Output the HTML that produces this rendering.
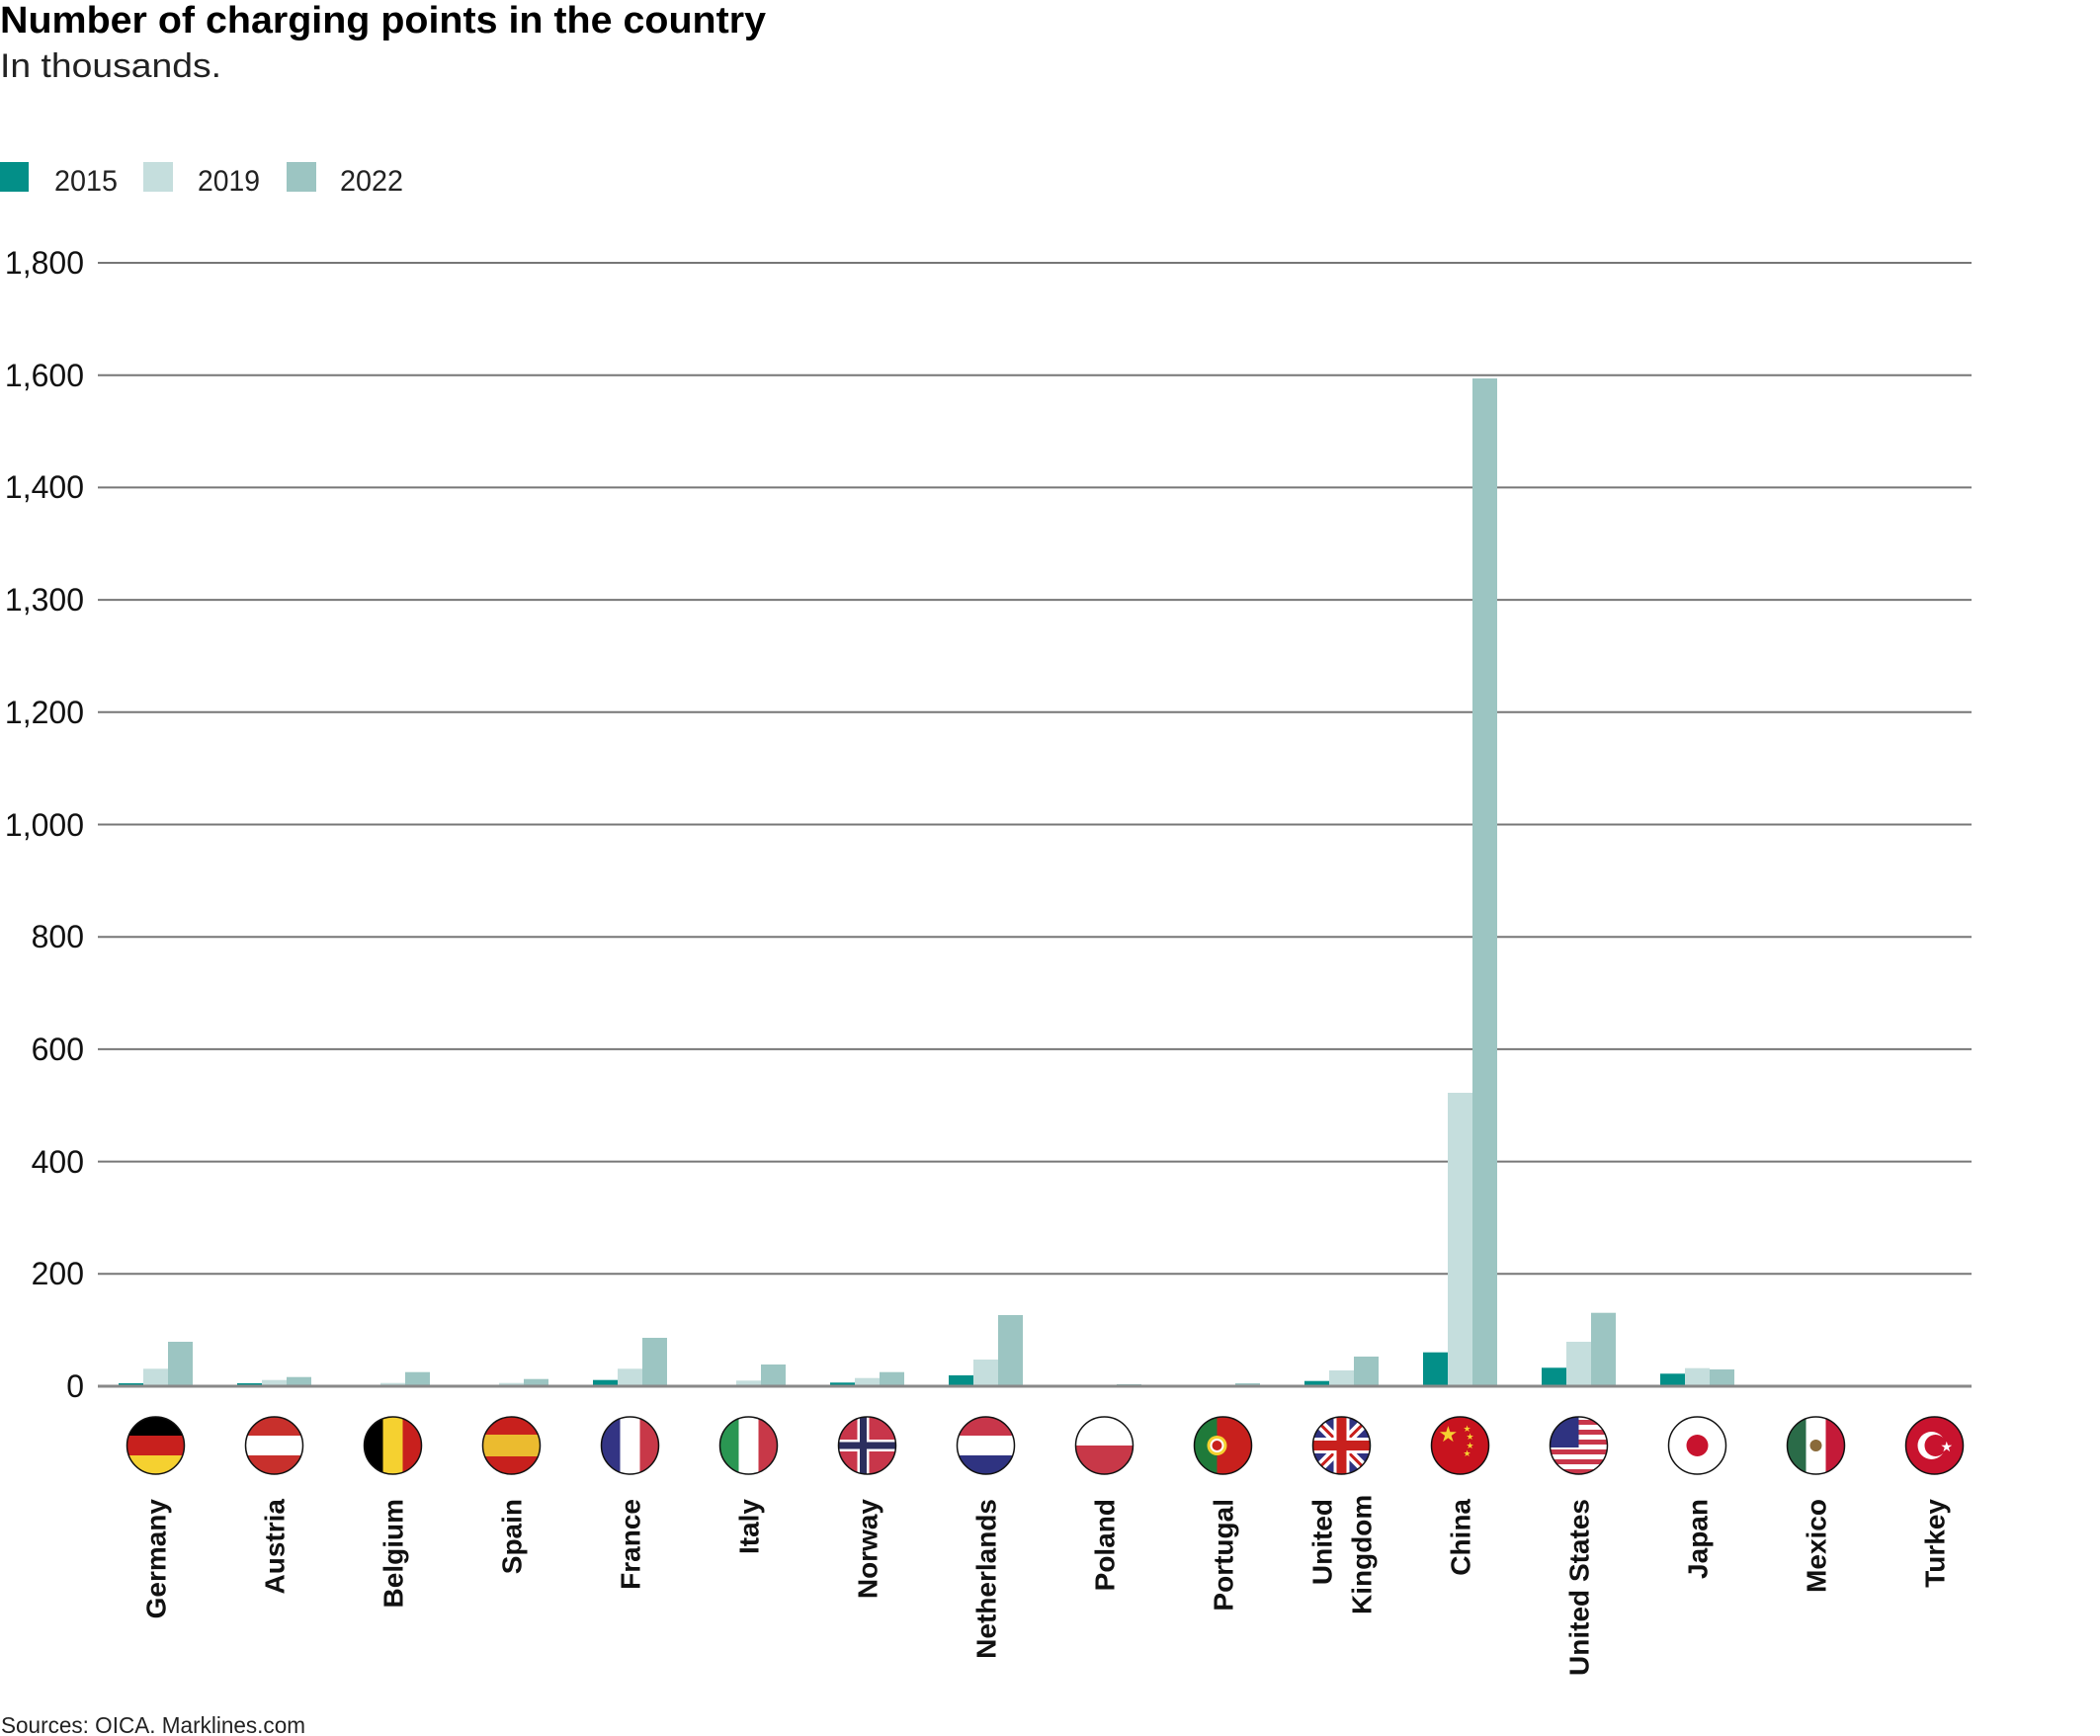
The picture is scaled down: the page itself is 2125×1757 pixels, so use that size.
<!DOCTYPE html>
<html><head><meta charset="utf-8"><style>html,body{margin:0;padding:0;background:#fff}svg{display:block}</style></head><body>
<svg width="2125" height="1757" viewBox="0 0 2125 1757" xmlns="http://www.w3.org/2000/svg">
<defs><clipPath id="c" clipPathUnits="userSpaceOnUse"><circle cx="0" cy="0" r="29"/></clipPath></defs>
<g font-family="'Liberation Sans Narrow','Liberation Sans',sans-serif">
<text x="0" y="33" font-size="38" font-weight="bold" textLength="775" lengthAdjust="spacingAndGlyphs">Number of charging points in the country</text>
<text x="0" y="78" font-size="34" textLength="224" lengthAdjust="spacingAndGlyphs" fill="#222">In thousands.</text>
<rect x="0" y="164" width="29" height="30" fill="#038f88"/><text x="55" y="193" font-size="30" textLength="64" lengthAdjust="spacingAndGlyphs" fill="#222">2015</text>
<rect x="145" y="164" width="30" height="30" fill="#c5dedd"/><text x="200" y="193" font-size="30" textLength="63" lengthAdjust="spacingAndGlyphs" fill="#222">2019</text>
<rect x="290" y="164" width="30" height="30" fill="#9cc5c2"/><text x="344" y="193" font-size="30" textLength="64" lengthAdjust="spacingAndGlyphs" fill="#222">2022</text>
<text x="1" y="1754" font-size="23" textLength="308" lengthAdjust="spacingAndGlyphs" fill="#222">Sources: OICA. Marklines.com</text>
</g>
<g stroke="#777" stroke-width="2">
<line x1="99" x2="1995" y1="266" y2="266"/><line x1="99" x2="1995" y1="379.7" y2="379.7"/><line x1="99" x2="1995" y1="493.4" y2="493.4"/><line x1="99" x2="1995" y1="607.1" y2="607.1"/><line x1="99" x2="1995" y1="720.8" y2="720.8"/><line x1="99" x2="1995" y1="834.5" y2="834.5"/><line x1="99" x2="1995" y1="948.2" y2="948.2"/><line x1="99" x2="1995" y1="1061.9" y2="1061.9"/><line x1="99" x2="1995" y1="1175.6" y2="1175.6"/><line x1="99" x2="1995" y1="1289.3" y2="1289.3"/>
</g>
<g font-family="'Liberation Sans Narrow','Liberation Sans',sans-serif" font-size="32" text-anchor="end" fill="#111">
<text x="85" y="277">1,800</text><text x="85" y="391">1,600</text><text x="85" y="504">1,400</text><text x="85" y="618">1,300</text><text x="85" y="732">1,200</text><text x="85" y="846">1,000</text><text x="85" y="959">800</text><text x="85" y="1073">600</text><text x="85" y="1187">400</text><text x="85" y="1300">200</text><text x="85" y="1414">0</text>
</g>
<g id="bars"></g>
<line x1="99" x2="1995" y1="1403" y2="1403" stroke="#888" stroke-width="3"/>

<g transform="translate(157.5,1463)"><g clip-path="url(#c)"><rect x="-30" y="-30" width="60" height="20" fill="#000"/><rect x="-30" y="-10" width="60" height="20" fill="#c8201d"/><rect x="-30" y="10" width="60" height="20" fill="#f5d130"/></g><circle r="29" fill="none" stroke="#111" stroke-width="1.5"/></g>
<g transform="translate(277.5,1463)"><g clip-path="url(#c)"><rect x="-30" y="-30" width="60" height="60" fill="#c8302c"/><rect x="-30" y="-10" width="60" height="20" fill="#fff"/></g><circle r="29" fill="none" stroke="#111" stroke-width="1.5"/></g>
<g transform="translate(397.5,1463)"><g clip-path="url(#c)"><rect x="-30" y="-30" width="20" height="60" fill="#000"/><rect x="-10" y="-30" width="20" height="60" fill="#f5d130"/><rect x="10" y="-30" width="20" height="60" fill="#c8201d"/></g><circle r="29" fill="none" stroke="#111" stroke-width="1.5"/></g>
<g transform="translate(517.5,1463)"><g clip-path="url(#c)"><rect x="-30" y="-30" width="60" height="60" fill="#c8201d"/><rect x="-30" y="-11" width="60" height="22" fill="#ebbb2f"/></g><circle r="29" fill="none" stroke="#111" stroke-width="1.5"/></g>
<g transform="translate(637.5,1463)"><g clip-path="url(#c)"><rect x="-30" y="-30" width="20" height="60" fill="#333484"/><rect x="-10" y="-30" width="20" height="60" fill="#fff"/><rect x="10" y="-30" width="20" height="60" fill="#c83848"/></g><circle r="29" fill="none" stroke="#111" stroke-width="1.5"/></g>
<g transform="translate(757.5,1463)"><g clip-path="url(#c)"><rect x="-30" y="-30" width="20" height="60" fill="#2a9652"/><rect x="-10" y="-30" width="20" height="60" fill="#fff"/><rect x="10" y="-30" width="20" height="60" fill="#c83848"/></g><circle r="29" fill="none" stroke="#111" stroke-width="1.5"/></g>
<g transform="translate(877.5,1463)"><g clip-path="url(#c)"><rect x="-30" y="-30" width="60" height="60" fill="#c8364a"/><rect x="-30" y="-6" width="60" height="12" fill="#fff"/><rect x="-10" y="-30" width="12" height="60" fill="#fff"/><rect x="-30" y="-3.5" width="60" height="7" fill="#2c2f5e"/><rect x="-7.5" y="-30" width="7" height="60" fill="#2c2f5e"/></g><circle r="29" fill="none" stroke="#111" stroke-width="1.5"/></g>
<g transform="translate(997.5,1463)"><g clip-path="url(#c)"><rect x="-30" y="-30" width="60" height="20" fill="#c8364a"/><rect x="-30" y="-10" width="60" height="20" fill="#fff"/><rect x="-30" y="10" width="60" height="20" fill="#2f3381"/></g><circle r="29" fill="none" stroke="#111" stroke-width="1.5"/></g>
<g transform="translate(1117.5,1463)"><g clip-path="url(#c)"><rect x="-30" y="-30" width="60" height="30" fill="#fff"/><rect x="-30" y="0" width="60" height="30" fill="#c83848"/></g><circle r="29" fill="none" stroke="#111" stroke-width="1.5"/></g>
<g transform="translate(1237.5,1463)"><g clip-path="url(#c)"><rect x="-30" y="-30" width="60" height="60" fill="#c8201d"/><rect x="-30" y="-30" width="24" height="60" fill="#1f7a3a"/><circle cx="-6" cy="0" r="10" fill="#f5d130"/><circle cx="-6" cy="0" r="6" fill="#c8201d" stroke="#fff" stroke-width="2"/></g><circle r="29" fill="none" stroke="#111" stroke-width="1.5"/></g>
<g transform="translate(1357.5,1463)"><g clip-path="url(#c)"><rect x="-30" y="-30" width="60" height="60" fill="#2f3381"/><path d="M-30-30L30 30M30-30L-30 30" stroke="#fff" stroke-width="10"/><path d="M-30-30L30 30M30-30L-30 30" stroke="#c8201d" stroke-width="3"/><rect x="-30" y="-8" width="60" height="16" fill="#fff"/><rect x="-8" y="-30" width="16" height="60" fill="#fff"/><rect x="-30" y="-5" width="60" height="10" fill="#c8201d"/><rect x="-5" y="-30" width="10" height="60" fill="#c8201d"/></g><circle r="29" fill="none" stroke="#111" stroke-width="1.5"/></g>
<g transform="translate(1477.5,1463)"><g clip-path="url(#c)"><rect x="-30" y="-30" width="60" height="60" fill="#c8131e"/><text x="-22" y="-4" font-size="22" fill="#f5d130" font-family="DejaVu Sans">★</text><text x="3" y="-14" font-size="9" fill="#f5d130" font-family="DejaVu Sans">★</text><text x="6" y="-6" font-size="9" fill="#f5d130" font-family="DejaVu Sans">★</text><text x="6" y="3" font-size="9" fill="#f5d130" font-family="DejaVu Sans">★</text><text x="3" y="11" font-size="9" fill="#f5d130" font-family="DejaVu Sans">★</text></g><circle r="29" fill="none" stroke="#111" stroke-width="1.5"/></g>
<g transform="translate(1597.5,1463)"><g clip-path="url(#c)"><rect x="-30" y="-30" width="60" height="60" fill="#fff"/><rect x="-30" y="-26" width="60" height="5" fill="#c8364a"/><rect x="-30" y="-16" width="60" height="5" fill="#c8364a"/><rect x="-30" y="-6" width="60" height="5" fill="#c8364a"/><rect x="-30" y="4" width="60" height="5" fill="#c8364a"/><rect x="-30" y="14" width="60" height="5" fill="#c8364a"/><rect x="-30" y="24" width="60" height="5" fill="#c8364a"/><rect x="-30" y="-30" width="30" height="32" fill="#2f3381"/></g><circle r="29" fill="none" stroke="#111" stroke-width="1.5"/></g>
<g transform="translate(1717.5,1463)"><g clip-path="url(#c)"><rect x="-30" y="-30" width="60" height="60" fill="#fff"/><circle cx="0" cy="0" r="11" fill="#c8132e"/></g><circle r="29" fill="none" stroke="#111" stroke-width="1.5"/></g>
<g transform="translate(1837.5,1463)"><g clip-path="url(#c)"><rect x="-30" y="-30" width="20" height="60" fill="#2a6b48"/><rect x="-10" y="-30" width="20" height="60" fill="#fff"/><rect x="10" y="-30" width="20" height="60" fill="#c41a38"/><circle cx="0" cy="0" r="6" fill="#8a6a3a"/></g><circle r="29" fill="none" stroke="#111" stroke-width="1.5"/></g>
<g transform="translate(1957.5,1463)"><g clip-path="url(#c)"><rect x="-30" y="-30" width="60" height="60" fill="#c8132e"/><circle cx="-3" cy="0" r="14" fill="#fff"/><circle cx="1" cy="0" r="11" fill="#c8132e"/><text x="6" y="6" font-size="14" fill="#fff" font-family="DejaVu Sans">★</text></g><circle r="29" fill="none" stroke="#111" stroke-width="1.5"/></g>

<g id="labels" font-family="'Liberation Sans',sans-serif" font-weight="bold" font-size="28" fill="#111" text-anchor="end"></g>
<script>
var NS="http://www.w3.org/2000/svg";
var d=[["Germany",[3,17.7,45]],["Austria",[3,6.3,9.3]],["Belgium",[1.3,3.3,14.3]],["Spain",[1.3,3.3,7.3]],["France",[6.3,17.7,49]],["Italy",[1.3,5.7,22]],["Norway",[3.7,8.3,14.3]],["Netherlands",[11,27,72]],["Poland",[0,0.5,2]],["Portugal",[0.5,1,3]],["UK",[5.3,16,30]],["China",[34.3,297,1020]],["United States",[18.7,45,74.3]],["Japan",[12.7,18.3,17]],["Mexico",[0,0.5,1]],["Turkey",[0,0,1.5]]];
var cols=["#038f88","#c5dedd","#9cc5c2"];
var bars=document.getElementById("bars"),labels=document.getElementById("labels");
function el(p,t,a,txt){var e=document.createElementNS(NS,t);for(var k in a)e.setAttribute(k,a[k]);if(txt)e.textContent=txt;p.appendChild(e);return e;}
d.forEach(function(g,i){
 var c=157.5+120*i;
 g[1].forEach(function(h,j){ if(h>0) el(bars,"rect",{x:c-37.5+25*j,y:1403-h,width:25,height:h,fill:cols[j]}); });
 if(g[0]=="UK"){
  el(labels,"text",{transform:"translate("+(c-10)+",1517) rotate(-90)"},"United");
  el(labels,"text",{transform:"translate("+(c+30)+",1517) rotate(-90)","text-anchor":"start",x:-117},"Kingdom");
 } else el(labels,"text",{transform:"translate("+(c+10)+",1517) rotate(-90)"},g[0]);
});
</script>
</svg>
</body></html>
